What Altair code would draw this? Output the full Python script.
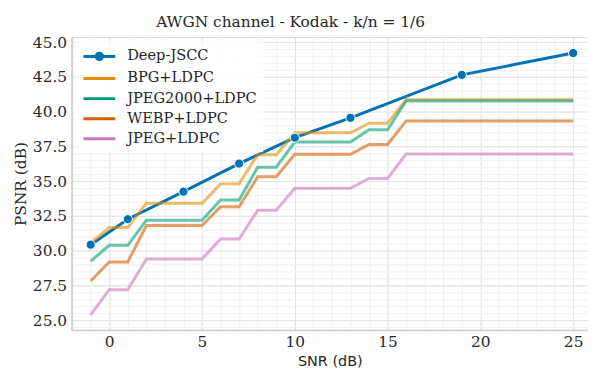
import altair as alt
import pandas as pd

# ---------------- data ----------------
methods = ["Deep-JSCC", "BPG+LDPC", "JPEG2000+LDPC", "WEBP+LDPC", "JPEG+LDPC"]
colors = ["#0173b2", "#de8f05", "#029e73", "#d55e00", "#cc78bc"]

deep_snr = [-1, 1, 4, 7, 10, 13, 19, 25]
deep_psnr = [30.43, 32.26, 34.24, 36.26, 38.12, 39.55, 42.64, 44.21]

base_snr = [-1, 0, 1, 2, 3, 4, 5, 6, 7, 8, 9, 10, 11, 12, 13, 14, 15, 16,
            17, 18, 19, 20, 21, 22, 23, 24, 25]
bpg = [30.55, 31.66, 31.66, 33.40, 33.40, 33.40, 33.40, 34.80, 34.80, 36.90,
       36.90, 38.48, 38.48, 38.48, 38.48, 39.16, 39.16, 40.86, 40.86, 40.86,
       40.86, 40.86, 40.86, 40.86, 40.86, 40.86, 40.86]
jpeg2000 = [29.24, 30.38, 30.38, 32.19, 32.19, 32.19, 32.19, 33.64, 33.64, 36.00,
            36.00, 37.81, 37.81, 37.81, 37.81, 38.69, 38.69, 40.76, 40.76, 40.76,
            40.76, 40.76, 40.76, 40.76, 40.76, 40.76, 40.76]
webp = [27.81, 29.19, 29.19, 31.81, 31.81, 31.81, 31.81, 33.16, 33.16, 35.31,
        35.31, 36.93, 36.93, 36.93, 36.93, 37.64, 37.64, 39.33, 39.33, 39.33,
        39.33, 39.33, 39.33, 39.33, 39.33, 39.33, 39.33]
jpeg = [25.38, 27.19, 27.19, 29.40, 29.40, 29.40, 29.40, 30.84, 30.84, 32.91,
        32.91, 34.48, 34.48, 34.48, 34.48, 35.19, 35.19, 36.95, 36.95, 36.95,
        36.95, 36.95, 36.95, 36.95, 36.95, 36.95, 36.95]

x_major = [0, 5, 10, 15, 20, 25]
x_minor = [-2, -1, 0, 1, 2, 3, 4, 5, 6, 7, 8, 9, 10, 11, 12, 13, 14, 15, 16,
           17, 18, 19, 20, 21, 22, 23, 24, 25]
y_major = [25.0, 27.5, 30.0, 32.5, 35.0, 37.5, 40.0, 42.5, 45.0]
y_minor = [24.5, 25.0, 25.5, 26.0, 26.5, 27.0, 27.5, 28.0, 28.5, 29.0, 29.5,
           30.0, 30.5, 31.0, 31.5, 32.0, 32.5, 33.0, 33.5, 34.0, 34.5, 35.0,
           35.5, 36.0, 36.5, 37.0, 37.5, 38.0, 38.5, 39.0, 39.5, 40.0, 40.5,
           41.0, 41.5, 42.0, 42.5, 43.0, 43.5, 44.0, 44.5, 45.0]

# ---------------- tables ----------------
deep_df = pd.DataFrame({"snr": deep_snr, "psnr": deep_psnr, "method": "Deep-JSCC"})
base_frames = []
for name, vals in zip(methods[1:], [bpg, jpeg2000, webp, jpeg]):
    base_frames.append(pd.DataFrame({"snr": base_snr, "psnr": vals, "method": name}))
base_df = pd.concat(base_frames, ignore_index=True)
all_df = pd.concat([deep_df, base_df], ignore_index=True)

SERIF = "DejaVu Serif"
TXT = "#262626"

x_scale = alt.Scale(domain=[-2.03, 25.8], nice=False, zero=False)
y_scale = alt.Scale(domain=[24.29, 45.36], nice=False, zero=False)
# colour scale used by the drawn marks (listed in reverse so that it is kept
# apart from the legend scales below; the mapping is the same)
mark_color_scale = alt.Scale(domain=methods[::-1], range=colors[::-1])
legend_color_scale = alt.Scale(domain=methods, range=colors)

# legend glyphs (line with a dot for Deep-JSCC, plain line for the others)
deep_path = ("M-0.94,0H0.6M1.52,0H3.06"
             "M0.66,0A0.4,0.4 0 1,1 1.46,0A0.4,0.4 0 1,1 0.66,0Z")
line_path = "M-0.94,0H3.06"
shape_scale = alt.Scale(domain=methods,
                        range=[deep_path, line_path, line_path, line_path, line_path])

legend = alt.Legend(
    title=None, orient="top-left", offset=4,
    labelFont=SERIF, labelFontSize=14.7, labelColor=TXT,
    symbolSize=256, symbolStrokeWidth=3, labelOffset=27, rowPadding=3.25,
    padding=6, fillColor="rgba(255,255,255,0.85)", symbolOpacity=1,
)

# minor grid layer (invisible line, only its axes)
minor = alt.Chart(deep_df).mark_line(opacity=0).encode(
    x=alt.X("snr:Q", scale=x_scale,
            axis=alt.Axis(values=x_minor, grid=True, gridColor="#f1f1f1", gridWidth=1,
                          labels=False, ticks=False, domain=False, title=None, orient="bottom")),
    y=alt.Y("psnr:Q", scale=y_scale,
            axis=alt.Axis(values=y_minor, grid=True, gridColor="#f1f1f1", gridWidth=1,
                          labels=False, ticks=False, domain=False, title=None, orient="left")),
)

x_axis = alt.Axis(values=x_major, grid=True, gridColor="#e2e2e2", gridWidth=1,
                  ticks=False, domain=True, domainColor="#cccccc", domainWidth=1.5,
                  labelFont=SERIF, labelFontSize=15.5, labelColor=TXT, labelPadding=5,
                  title="SNR (dB)", titleFont="DejaVu Sans", titleFontSize=14.5,
                  titleFontWeight="normal", titleColor=TXT, titlePadding=4, orient="bottom")
y_axis = alt.Axis(values=y_major, format=".1f", grid=True, gridColor="#e2e2e2", gridWidth=1,
                  ticks=False, domain=True, domainColor="#cccccc", domainWidth=1.5,
                  labelFont=SERIF, labelFontSize=15.5, labelColor=TXT, labelPadding=5,
                  title="PSNR (dB)", titleFont=SERIF, titleFontSize=15.5,
                  titleFontWeight="normal", titleColor=TXT, titlePadding=4, orient="left")

deep_line = alt.Chart(deep_df).mark_line(strokeWidth=3).encode(
    x=alt.X("snr:Q", scale=x_scale, axis=x_axis),
    y=alt.Y("psnr:Q", scale=y_scale, axis=y_axis),
    color=alt.Color("method:N", scale=mark_color_scale, legend=None),
)

base_lines = alt.Chart(base_df).mark_line(strokeWidth=3, opacity=0.6).encode(
    x=alt.X("snr:Q", scale=x_scale, axis=None),
    y=alt.Y("psnr:Q", scale=y_scale, axis=None),
    color=alt.Color("method:N", scale=mark_color_scale, legend=None),
    detail="method:N",
)

deep_pts = alt.Chart(deep_df).mark_point(filled=True, size=85, opacity=1,
                                         stroke="white", strokeWidth=1).encode(
    x=alt.X("snr:Q", scale=x_scale, axis=None),
    y=alt.Y("psnr:Q", scale=y_scale, axis=None),
    color=alt.Color("method:N", scale=mark_color_scale, legend=None),
)

# legend carrier: draws nothing (filtered out), only provides the legend
legend_layer = alt.Chart(all_df).transform_filter("datum.snr > 1000").mark_point(
    filled=True, size=256, strokeWidth=3, opacity=1
).encode(
    x=alt.X("snr:Q", scale=x_scale, axis=None),
    y=alt.Y("psnr:Q", scale=y_scale, axis=None),
    fill=alt.Fill("method:N", scale=legend_color_scale, legend=legend),
    stroke=alt.Stroke("method:N", scale=legend_color_scale, legend=legend),
    shape=alt.Shape("method:N", scale=shape_scale, legend=legend),
)

chart = alt.layer(minor, deep_line, base_lines, deep_pts, legend_layer).resolve_axis(
    x="independent", y="independent"
).properties(
    width=520, height=295,
    autosize=alt.AutoSizeParams(type="none"),
    padding={"left": 64, "top": 28, "right": 0, "bottom": 38},
    title=alt.TitleParams("AWGN channel - Kodak - k/n = 1/6", font=SERIF, fontSize=15.5,
                          fontWeight="normal", color=TXT, anchor="middle", dx=-39.5,
                          offset=5),
).configure_view(stroke=None).configure(background="white")

chart.save("out.html", embed_options={"renderer": "svg", "actions": False})
